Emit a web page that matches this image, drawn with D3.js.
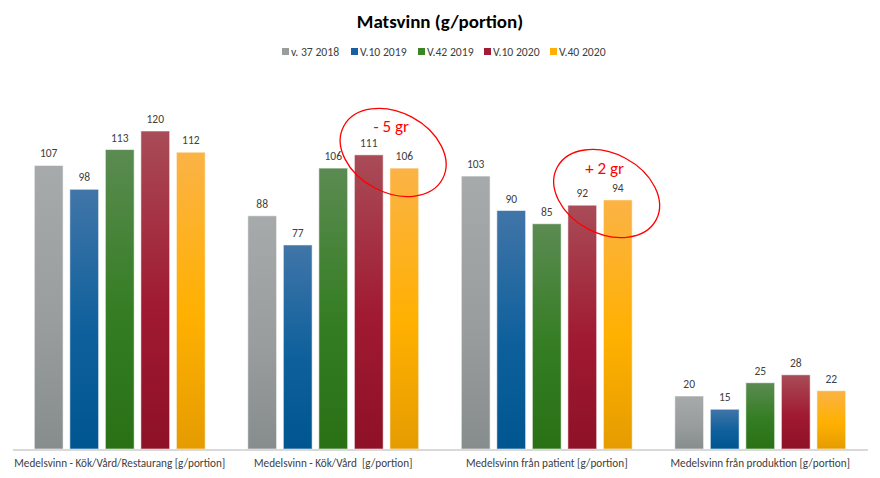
<!DOCTYPE html>
<html><head><meta charset="utf-8">
<script src="https://cdn.jsdelivr.net/npm/d3@7"></script>
<style>body{margin:0;background:#fff}svg{display:block;font-family:Carlito,Calibri,"Open Sans","Liberation Sans",sans-serif}</style>
</head><body><svg id="c" width="880" height="478"></svg>
<script>
const categories = ["Medelsvinn - Kök/Vård/Restaurang [g/portion]","Medelsvinn - Kök/Vård  [g/portion]","Medelsvinn från patient [g/portion]","Medelsvinn från produktion [g/portion]"];
const seriesNames = ["v. 37 2018","V.10 2019","V.42 2019","V.10 2020","V.40 2020"];
const s2018v37 = [107,88,103,20];
const s2019v10 = [98,77,90,15];
const s2019v42 = [113,106,85,25];
const s2020v10 = [120,111,92,28];
const s2020v40 = [112,106,94,22];
const seriesValues = [s2018v37,s2019v10,s2019v42,s2020v10,s2020v40];
const annotations = [{text:"- 5 gr", cat:1, series:3},{text:"+ 2 gr", cat:2, series:3}];

const colors = [
  {top:"#a7aaab", mid:"#999d9e", bot:"#878c8c", legend:"#999d9d"},
  {top:"#4175a8", mid:"#0e609c", bot:"#005690", legend:"#1a5fa0"},
  {top:"#5b8b52", mid:"#347d22", bot:"#2a7116", legend:"#3b8527"},
  {top:"#a94c57", mid:"#a01a31", bot:"#8e1127", legend:"#a31c37"},
  {top:"#fbb346", mid:"#ffb000", bot:"#e59c00", legend:"#ffb000"}
];

const svg = d3.select("#c");
const left = 13, right = 867, base = 449;

const defs = svg.append("defs");
colors.forEach((c,i)=>{
  const g = defs.append("linearGradient").attr("id","g"+i).attr("x1",0).attr("y1",0).attr("x2",0).attr("y2",1);
  g.append("stop").attr("offset","0%").attr("stop-color",c.top);
  g.append("stop").attr("offset","55%").attr("stop-color",c.mid);
  g.append("stop").attr("offset","100%").attr("stop-color",c.bot);
});

const x0 = d3.scaleBand().domain(categories).range([left,right]).paddingInner(0).paddingOuter(0);
const x1 = d3.scaleBand().domain(d3.range(seriesNames.length)).range([0,x0.bandwidth()]).paddingInner(0.19).paddingOuter(0.6);
const y = d3.scaleLinear().domain([0,120]).range([base,131]);

// title
svg.append("text").attr("x",440).attr("y",28).attr("text-anchor","middle")
  .attr("font-size",19).attr("font-weight","bold").attr("fill","#000").text("Matsvinn (g/portion)");

// legend
const legendX = [282,351,418,484,550];
const lg = svg.append("g");
seriesNames.forEach((n,i)=>{
  lg.append("rect").attr("x",legendX[i]).attr("y",48).attr("width",7).attr("height",7).attr("fill",colors[i].legend);
  lg.append("text").attr("x",legendX[i]+9).attr("y",56).attr("font-size",11.7).attr("fill","#404040").text(n);
});

// bars
categories.forEach((cat,ci)=>{
  const g = svg.append("g").attr("transform",`translate(${x0(cat)},0)`);
  seriesValues.forEach((vals,si)=>{
    const v = vals[ci];
    g.append("rect").attr("x",x1(si)).attr("y",y(v)).attr("width",x1.bandwidth()).attr("height",base-y(v))
      .attr("fill",`url(#g${si})`).attr("stroke","rgba(255,255,255,0.55)").attr("stroke-width",1);
    g.append("text").attr("x",x1(si)+x1.bandwidth()/2).attr("y",y(v)-8).attr("text-anchor","middle")
      .attr("font-size",11.5).attr("fill","#404040").text(v);
  });
});

// axis
svg.append("line").attr("x1",left).attr("x2",right+1).attr("y1",base+1).attr("y2",base+1).attr("stroke","#d9d9d9").attr("stroke-width",2);
const xAxis = d3.axisBottom(x0).tickSize(0).tickPadding(9);
const ax = svg.append("g").attr("transform",`translate(0,${base+1})`).call(xAxis)
  .attr("font-family",null).attr("font-size",null);
ax.select(".domain").remove();
ax.selectAll("text").attr("font-size",11.2).attr("fill","#404040").style("white-space","pre");

// annotations
annotations.forEach(a=>{
  const xs = x0(categories[a.cat]) + x1(a.series);
  const cx = xs + x1.bandwidth() + 10;
  const cy = (y(seriesValues[a.series][a.cat]) + y(seriesValues[a.series+1][a.cat]))/2 - 9;
  svg.append("ellipse").attr("cx",0).attr("cy",0).attr("rx",56).attr("ry",40)
    .attr("transform",`translate(${cx},${cy})rotate(28)`)
    .attr("fill","none").attr("stroke","#ff0000").attr("stroke-width",1.3);
  svg.append("text").attr("x",cx-2).attr("y",cy-20).attr("text-anchor","middle")
    .attr("font-size",17).attr("fill","#ff0000").text(a.text);
});
</script></body></html>
